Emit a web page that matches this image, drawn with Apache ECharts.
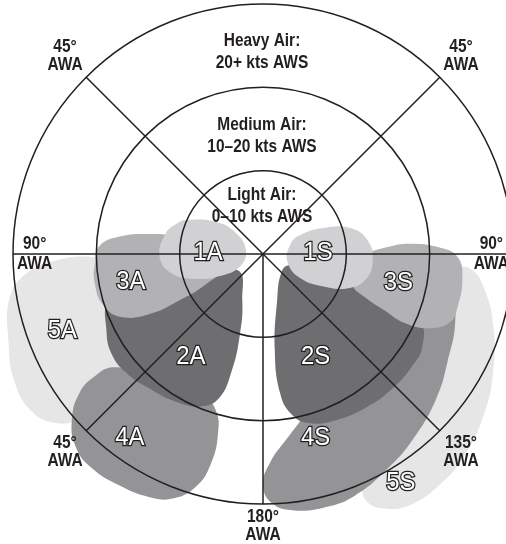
<!DOCTYPE html>
<html>
<head>
<meta charset="utf-8">
<script src="https://cdn.jsdelivr.net/npm/echarts@6/dist/echarts.min.js"></script>
<style>
html, body { margin: 0; padding: 0; background: #fff; }
#chart { width: 506px; height: 544px; }
</style>
</head>
<body>
<div id="chart"></div>
<script>
// wind-speed rings (kts AWS) and their captions
const ringTitles = ['Light Air:', 'Medium Air:', 'Heavy Air:'];
const ringRanges = ['0–10 kts AWS', '10–20 kts AWS', '20+ kts AWS'];
const ringCaptionAws = [5.7, 14.2, 24.2];

// spokes, clockwise from the bow (left half is mirrored)
const spokeAngles = [45, 90, 135, 180, 225, 270, 315];
const spokeLabels = ['45°', '90°', '135°', '180°', '45°', '90°', '45°'];

// sail zones as outlines of [AWA, AWS]; *A = left half, *S = right half
const sail5A = [[91,20.4],[92,25.2],[95,28.7],[100,30.9],[109,32.3],[117,33.5],[124,33.6],[129,32.2],[132,29.7],[134,25.4],[129,20.4],[108,17.5],[94,18.4]];
const sail5S = [[95,23.1],[94,24.9],[99,26.9],[108,29.1],[117,31.0],[125,32.6],[135,34.2],[143,34.9],[150,34.9],[154,34.0],[157,32.5],[157,30.5],[153,28.5],[145,27.4],[135,26.6],[123,25.4],[112,24.2],[101,23.1]];
const sail4A = [[127,22.6],[126,24.9],[127,27.5],[131,30.4],[136,32.3],[141,32.9],[148,32.7],[155,32.2],[160,31.2],[164,29.0],[166,26.1],[166,22.4],[163,19.5],[156,18.5],[142,20.0],[133,20.9]];
const sail4S = [[167,20.4],[173,22.5],[178,25.0],[180,27.7],[178,29.9],[173,31.0],[166,31.3],[159,31.0],[150,29.8],[141,28.6],[130,27.1],[120,25.6],[109,24.4],[101,22.9],[103,19.3],[119,16.1],[152,17.1]];
const sail2A = [[107,19.2],[108,14.2],[111,8.1],[123,3.6],[156,6.1],[164,10.1],[165,14.7],[163,18.1],[158,19.7],[149,20.6],[140,21.1],[132,21.7],[124,21.8],[116,20.9]];
const sail2S = [[112,3.5],[102,8.2],[107,14.7],[113,20.4],[120,22.1],[127,22.4],[136,22.4],[146,22.2],[156,21.8],[165,21.0],[170,19.5],[173,16.8],[173,11.6],[163,5.8],[134,3.1]];
const sail3A = [[87,19.6],[83,17.3],[80,13.8],[78,10.2],[79,5.9],[110,5.5],[118,7.9],[119,11.4],[118,15.3],[114,18.6],[108,20.1],[100,20.5],[93,20.2]];
const sail3S = [[91,11.9],[87,14.7],[86,17.7],[88,21.3],[91,23.4],[97,24.1],[105,24.2],[110,23.9],[114,21.9],[116,18.9],[115,16.2],[113,13.3],[109,11.3],[97,10.5]];
const sail1A = [[65,9.7],[56,6.9],[52,4.3],[77,2.1],[118,3.1],[117,5.8],[110,8.7],[102,11.2],[92,12.4],[79,12.0],[70,10.9]];
const sail1S = [[63,5.0],[67,8.1],[74,11.1],[83,12.7],[93,13.2],[104,12.7],[112,11.0],[118,8.4],[123,5.3],[108,3.1],[72,3.4]];

// drawing order, bottom to top
const sailNames = ['5A', '5S', '4A', '4S', '2A', '2S', '3A', '3S', '1A', '1S'];
const sailShapes = [sail5A, sail5S, sail4A, sail4S, sail2A, sail2S, sail3A, sail3S, sail1A, sail1S];
// where each zone's name sits, [AWA, AWS]
const sailLabelAt = [[111,25.8],[149,32.1],[144,27.2],[164,22.9],[145,15.1],[153,13.9],[102,16.2],[102,16.6],[89,6.6],[89,6.6]];

const fills = { '5': '#e6e6e7', '4': '#949497', '2': '#6e6e71', '3': '#b2b2b5', '1': '#d1d1d3' };
const ink = '#231f20';
const font = '"Liberation Sans", Arial, sans-serif';
const squeeze = 0.86; // condensed look, no narrow face installed

// polar angle: 0 at top, clockwise; A sails live on the left
const toAngle = (name, awa) => name.slice(-1) === 'A' ? 360 - awa : awa;

const chart = echarts.init(document.getElementById('chart'));

const blobSeries = sailNames.map((name, i) => {
  const pts = sailShapes[i].map(p => [p[1], toAngle(name, p[0])]);
  return {
    type: 'custom',
    coordinateSystem: 'polar',
    name: name,
    z: 2,
    silent: true,
    clip: false,
    data: pts,
    renderItem: (params, api) => {
      if (params.dataIndex !== 0) return null;
      return {
        type: 'polygon',
        shape: { points: pts.map(p => api.coord(p)), smooth: 0.45 },
        style: { fill: fills[name[0]] }
      };
    }
  };
});

const spokeSeries = {
  type: 'custom',
  coordinateSystem: 'polar',
  z: 10,
  silent: true,
  clip: false,
  data: spokeAngles.map(a => [30, a]),
  renderItem: (params, api) => {
    const a = api.value(1);
    const p0 = api.coord([0, a]);
    const p1 = api.coord([30, a]);
    return {
      type: 'line',
      shape: { x1: p0[0], y1: p0[1], x2: p1[0], y2: p1[1] },
      style: { stroke: ink, lineWidth: 1.5 }
    };
  }
};

const spokeLabelSeries = {
  type: 'custom',
  coordinateSystem: 'polar',
  z: 20,
  silent: true,
  clip: false,
  data: spokeAngles.map(a => [30, a]),
  renderItem: (params, api) => {
    const a = api.value(1);
    const r = a % 180 === 90 ? 27.4 : (a === 180 ? 32.6 : 33.6);
    const p = api.coord([r, a]);
    return {
      type: 'text',
      x: p[0], y: p[1], scaleX: squeeze,
      style: {
        text: spokeLabels[params.dataIndex] + '\nAWA',
        fill: ink, fontFamily: font, fontWeight: 'bold', fontSize: 18,
        lineHeight: a % 180 === 90 ? 20 : 18,
        align: 'center', verticalAlign: 'middle'
      }
    };
  }
};

const ringLabelSeries = {
  type: 'custom',
  coordinateSystem: 'polar',
  z: 20,
  silent: true,
  data: ringCaptionAws.map(r => [r, 0]),
  renderItem: (params, api) => {
    const p = api.coord([api.value(0), 0]);
    return {
      type: 'text',
      x: p[0] - 1, y: p[1], scaleX: squeeze,
      style: {
        text: ringTitles[params.dataIndex] + '\n' + ringRanges[params.dataIndex],
        fill: ink, fontFamily: font, fontWeight: 'bold', fontSize: 18, lineHeight: 22,
        align: 'center', verticalAlign: 'middle'
      }
    };
  }
};

const sailLabelSeries = {
  type: 'custom',
  coordinateSystem: 'polar',
  z: 30,
  silent: true,
  clip: false,
  data: sailLabelAt.map((p, i) => [p[1], toAngle(sailNames[i], p[0])]),
  renderItem: (params, api) => {
    const p = api.coord([api.value(0), api.value(1)]);
    return {
      type: 'text',
      x: p[0], y: p[1], scaleX: 0.92,
      style: {
        text: sailNames[params.dataIndex],
        fill: '#fff', stroke: ink, lineWidth: 2.6, strokeFirst: true,
        fontFamily: font, fontSize: 26,
        align: 'center', verticalAlign: 'middle'
      }
    };
  }
};

chart.setOption({
  animation: false,
  backgroundColor: '#fff',
  polar: { center: [263, 254], radius: 250 },
  angleAxis: {
    type: 'value', min: 0, max: 360, startAngle: 90, clockwise: true,
    axisLine: { show: false }, axisTick: { show: false },
    axisLabel: { show: false }, splitLine: { show: false }
  },
  radiusAxis: {
    type: 'value', min: 0, max: 30, interval: 10, z: 10,
    axisLine: { show: false }, axisTick: { show: false }, axisLabel: { show: false },
    splitLine: { show: true, lineStyle: { color: ink, width: 1.5 } }
  },
  series: [...blobSeries, spokeSeries, spokeLabelSeries, ringLabelSeries, sailLabelSeries]
});
</script>
</body>
</html>
